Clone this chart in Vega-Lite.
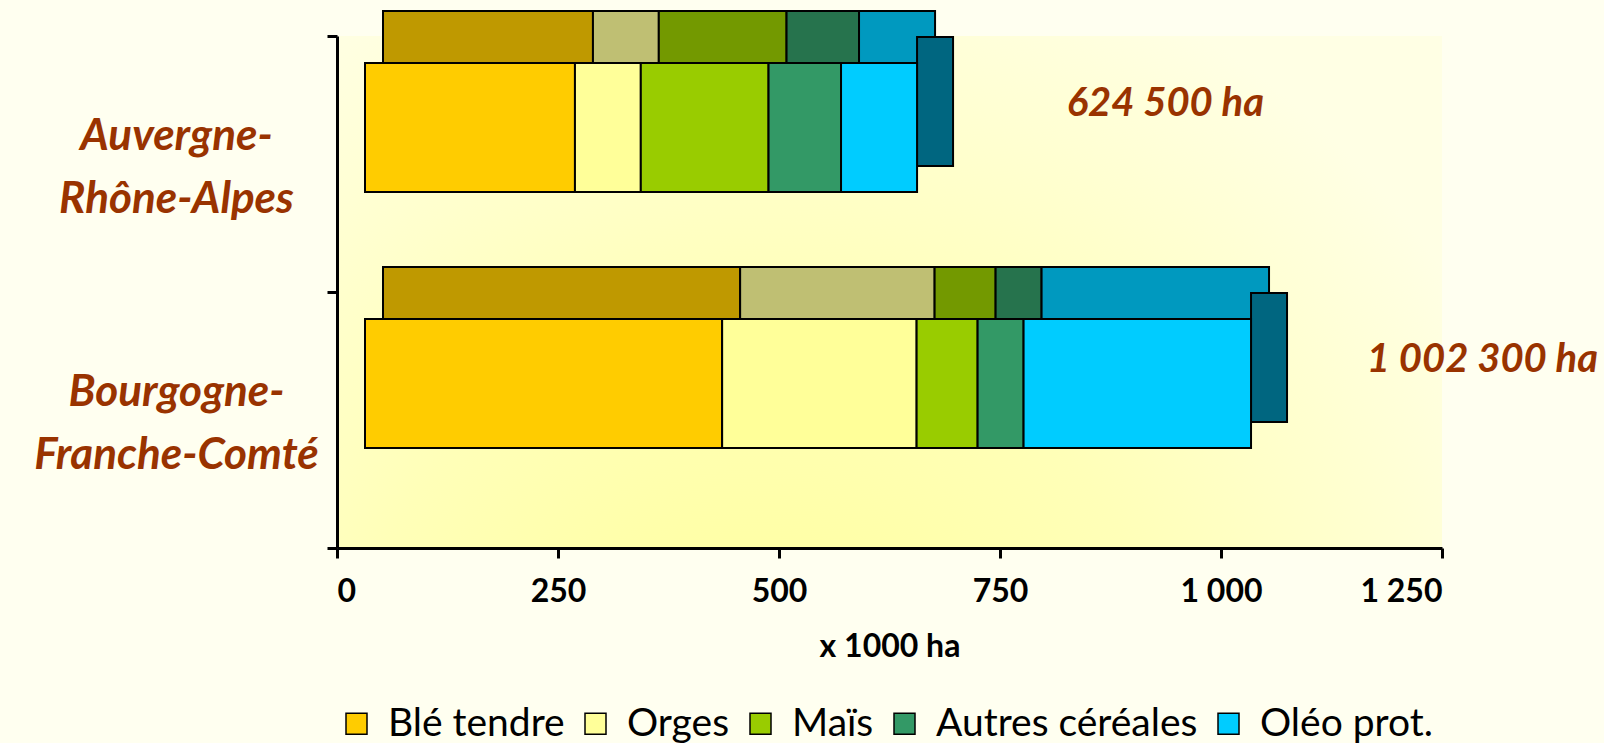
{
  "$schema": "https://vega.github.io/schema/vega-lite/v6.json",
  "width": 1105,
  "height": 512,
  "autosize": {"type": "none"},
  "padding": {"left": 337, "top": 36, "right": 162, "bottom": 195},
  "background": "#FFFFF0",
  "datasets": {
    "crops": [
      {"region": "Auvergne-Rhône-Alpes", "crop": "Blé tendre", "value": 237.5},
      {"region": "Auvergne-Rhône-Alpes", "crop": "Orges", "value": 74.5},
      {"region": "Auvergne-Rhône-Alpes", "crop": "Maïs", "value": 144.5},
      {"region": "Auvergne-Rhône-Alpes", "crop": "Autres céréales", "value": 82},
      {"region": "Auvergne-Rhône-Alpes", "crop": "Oléo prot.", "value": 86},
      {"region": "Bourgogne-Franche-Comté", "crop": "Blé tendre", "value": 404},
      {"region": "Bourgogne-Franche-Comté", "crop": "Orges", "value": 220},
      {"region": "Bourgogne-Franche-Comté", "crop": "Maïs", "value": 69},
      {"region": "Bourgogne-Franche-Comté", "crop": "Autres céréales", "value": 52},
      {"region": "Bourgogne-Franche-Comté", "crop": "Oléo prot.", "value": 257.3}
    ],
    "totals": [
      {"region": "Auvergne-Rhône-Alpes", "total": 624.5, "label": "624 500 ha"},
      {"region": "Bourgogne-Franche-Comté", "total": 1002.3, "label": "1 002 300 ha"}
    ]
  },
  "encoding": {
    "y": {
      "field": "region",
      "type": "nominal",
      "title": null,
      "scale": {"domain": ["Auvergne-Rhône-Alpes", "Bourgogne-Franche-Comté"], "paddingInner": 0, "paddingOuter": 0},
      "axis": {"labelExpr": "split(replace(datum.label, '-', '-|'), '|')", "tickBand": "extent", "labelOffset": -28}
    }
  },
  "layer": [
    {
      "data": {"name": "crops"},
      "transform": [{"stack": "value", "groupby": ["region"], "as": ["x0", "x1"]}],
      "mark": {"type": "bar", "height": {"band": 0.504}, "xOffset": 46, "x2Offset": 46, "yOffset": -88.5, "y2Offset": -88.5, "stroke": "black", "strokeWidth": 2},
      "encoding": {
        "x": {"field": "x0", "type": "quantitative", "title": "x 1000 ha", "scale": {"domain": [0, 1250], "nice": false}, "axis": {"values": [0, 250, 500, 750, 1000, 1250], "labelExpr": "replace(format(datum.value, ','), ',', ' ')"}},
        "x2": {"field": "x1"},
        "color": {
          "field": "crop",
          "type": "nominal",
          "scale": {"domain": ["Blé tendre", "Orges", "Maïs", "Autres céréales", "Oléo prot."], "range": ["#BF9900", "#BFBF73", "#739900", "#26734D", "#0099BF"]},
          "legend": null
        }
      }
    },
    {
      "data": {"name": "crops"},
      "transform": [{"stack": "value", "groupby": ["region"], "as": ["x0", "x1"]}, {"filter": "datum.crop === 'Oléo prot.'"}],
      "mark": {"type": "bar", "height": {"band": 0.504}, "color": "#006680", "xOffset": 28, "x2Offset": 64, "yOffset": -62.5, "y2Offset": -62.5, "stroke": "black", "strokeWidth": 2},
      "encoding": {
        "x": {"field": "x1", "type": "quantitative", "title": "x 1000 ha", "scale": {"domain": [0, 1250], "nice": false}},
        "x2": {"field": "x1"}
      }
    },
    {
      "data": {"name": "crops"},
      "transform": [{"stack": "value", "groupby": ["region"], "as": ["x0", "x1"]}],
      "mark": {"type": "bar", "height": {"band": 0.504}, "xOffset": 28, "x2Offset": 28, "yOffset": -36.5, "y2Offset": -36.5, "stroke": "black", "strokeWidth": 2},
      "encoding": {
        "x": {"field": "x0", "type": "quantitative", "title": "x 1000 ha", "scale": {"domain": [0, 1250], "nice": false}},
        "x2": {"field": "x1"},
        "color": {
          "field": "crop",
          "type": "nominal",
          "scale": {"domain": ["Blé tendre", "Orges", "Maïs", "Autres céréales", "Oléo prot."], "range": ["#FFCC00", "#FFFF99", "#99CC00", "#339966", "#00CCFF"]},
          "legend": {
            "title": null,
            "orient": "bottom",
            "direction": "horizontal",
            "offset": 42,
            "labelFont": "Lato",
            "labelFontSize": 39,
            "labelColor": "black",
            "labelLimit": 0,
            "labelOffset": 12,
            "columnPadding": 11,
            "symbolType": "square",
            "symbolSize": 441,
            "symbolStrokeColor": "black",
            "symbolStrokeWidth": 1.5
          }
        }
      }
    },
    {
      "data": {"name": "totals"},
      "mark": {"type": "text", "align": "right", "baseline": "middle", "dx": 375, "dy": -60, "font": "Lato", "fontSize": 40, "fontWeight": "bold", "fontStyle": "italic", "color": "#993300"},
      "encoding": {
        "x": {"field": "total", "type": "quantitative", "title": "x 1000 ha", "scale": {"domain": [0, 1250], "nice": false}},
        "text": {"field": "label"}
      }
    }
  ],
  "resolve": {"scale": {"color": "independent"}},
  "config": {
    "font": "Lato",
    "view": {
      "stroke": null,
      "fill": {"gradient": "radial", "x1": 0.38, "y1": 0.9, "r1": 0, "x2": 0.38, "y2": 0.9, "r2": 0.75, "stops": [{"offset": 0, "color": "#FFFF99"}, {"offset": 0.5, "color": "#FFFFB8"}, {"offset": 1, "color": "#FFFFE4"}]}
    },
    "axis": {"domainColor": "black", "domainWidth": 3, "tickColor": "black", "tickWidth": 3, "tickSize": 10, "grid": false, "labelColor": "black", "titleColor": "black", "labelFont": "Lato", "titleFont": "Lato"},
    "axisX": {"labelFontSize": 32, "labelFontWeight": "bold", "labelPadding": 18, "titleFontSize": 32, "titleFontWeight": "bold", "titlePadding": 24},
    "axisY": {"labelFontSize": 44, "labelFontWeight": "bold", "labelFontStyle": "italic", "labelColor": "#993300", "labelAlign": "center", "labelBaseline": "middle", "labelLineHeight": 63, "labelPadding": 151, "labelLimit": 0}
  }
}
